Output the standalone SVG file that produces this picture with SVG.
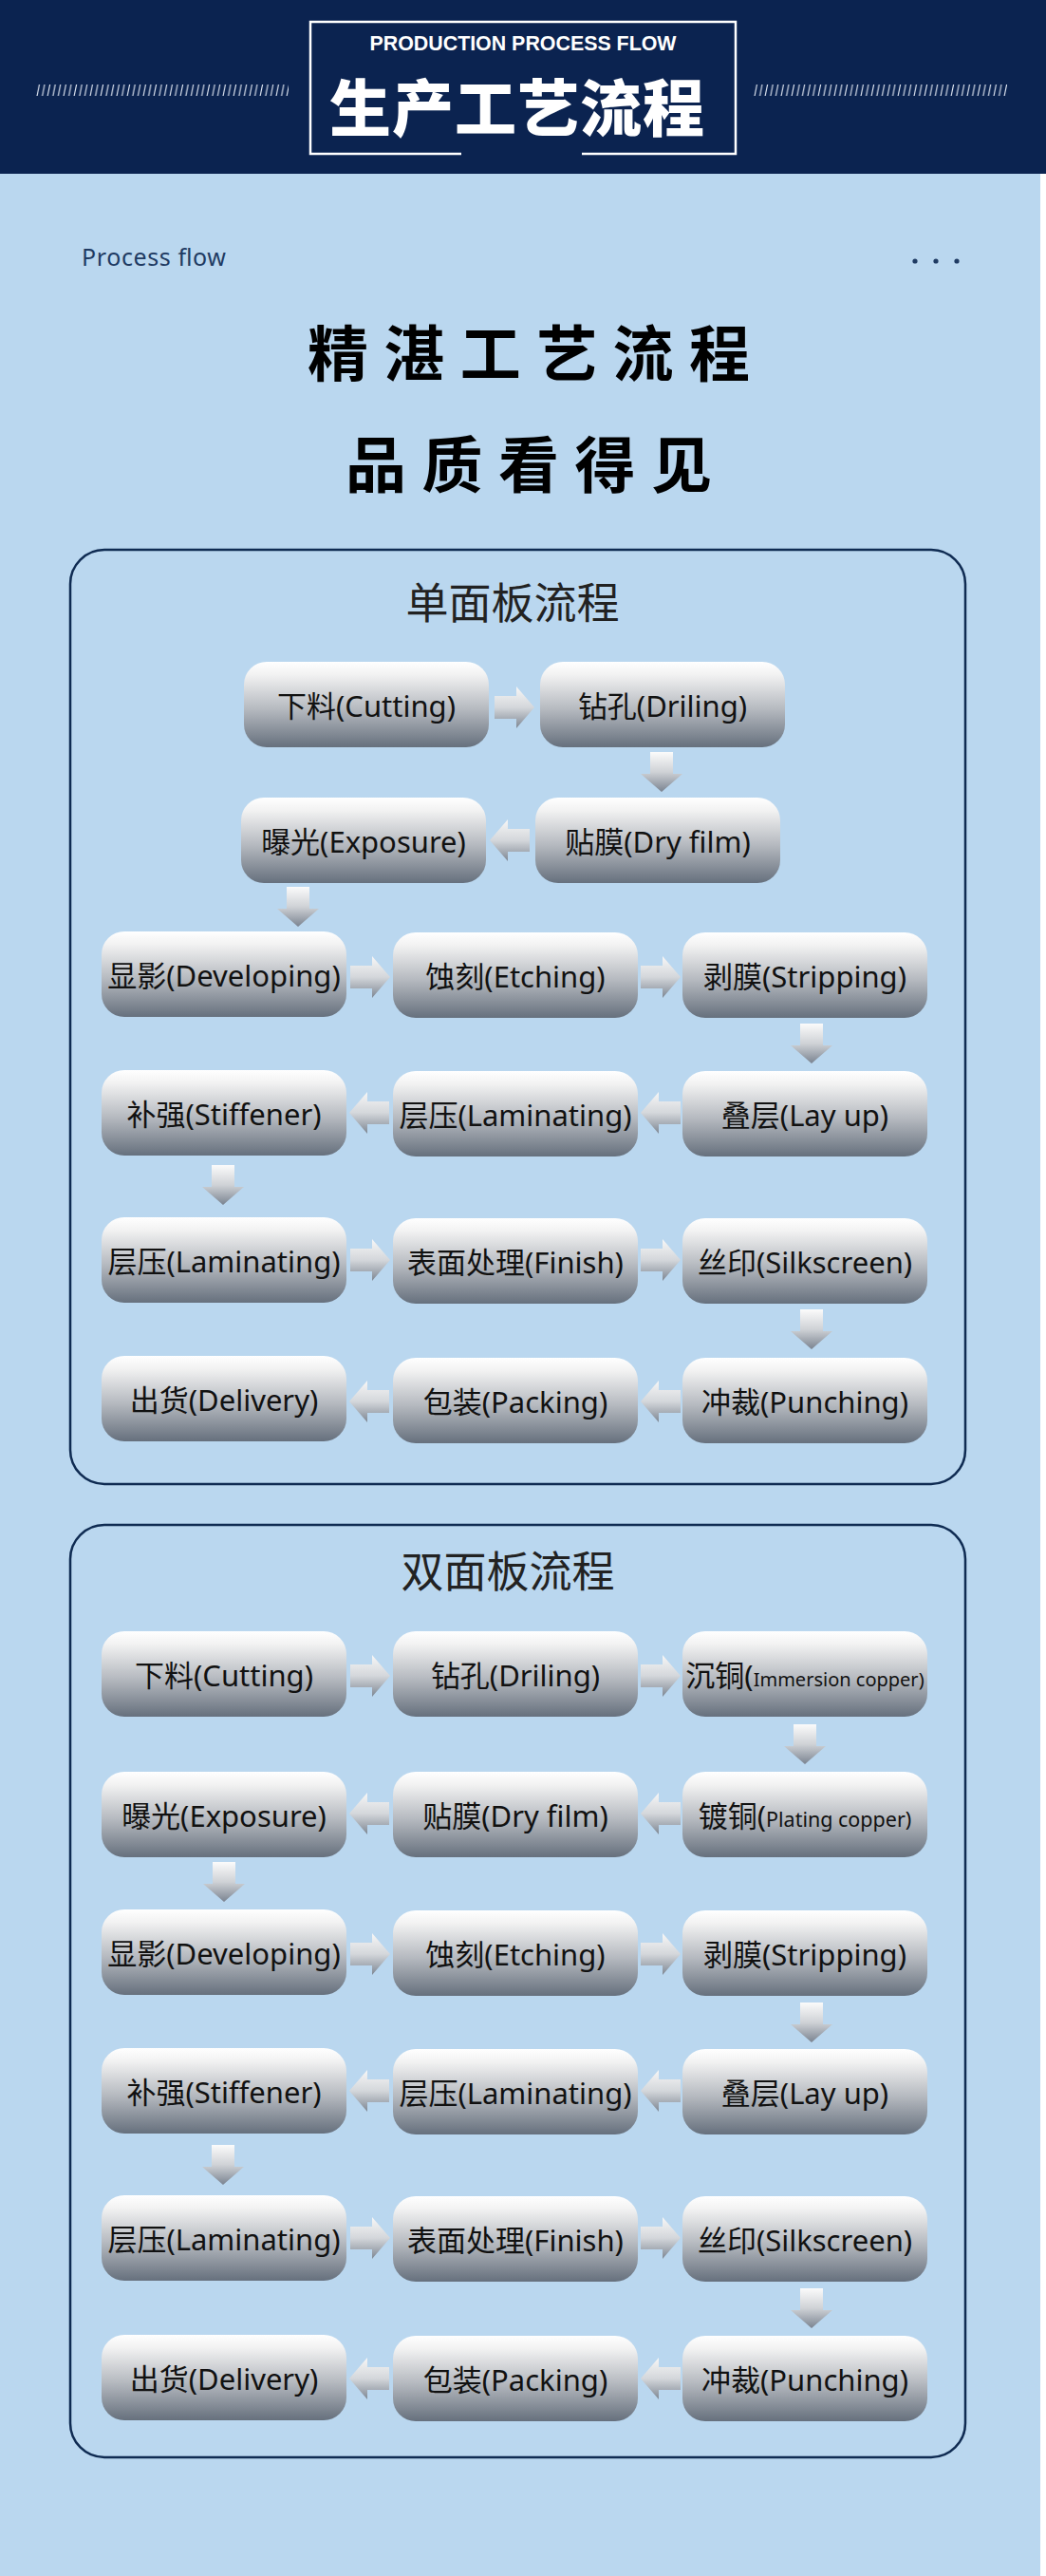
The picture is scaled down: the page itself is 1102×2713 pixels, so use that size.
<svg xmlns="http://www.w3.org/2000/svg" xmlns:xlink="http://www.w3.org/1999/xlink" width="1102" height="2713" viewBox="0 0 1102 2713">
<style>
.node rect{fill:url(#gN);}
.node text{font-family:'Noto Sans','Noto Sans CJK SC',sans-serif;font-size:31px;fill:#111;text-anchor:middle;}
.ah{fill:url(#gA);}
.av{fill:url(#gV);}
.panel{fill:none;stroke:#0f2b52;stroke-width:2.5;}
.ptitle{font-family:'Noto Sans CJK SC',sans-serif;font-size:45px;fill:#222;text-anchor:middle;}
.big{font-family:'Noto Sans CJK SC',sans-serif;font-weight:bold;font-size:64px;fill:#000;}
</style>
<defs>
<linearGradient id="gN" x1="0" y1="0" x2="0" y2="1">
<stop offset="0" stop-color="#ffffff"/>
<stop offset="0.15" stop-color="#f2f2f2"/>
<stop offset="0.55" stop-color="#b6bac0"/>
<stop offset="1" stop-color="#66707d"/>
</linearGradient>
<linearGradient id="gA" x1="0" y1="0" x2="0" y2="1">
<stop offset="0" stop-color="#f7f7f7"/>
<stop offset="0.5" stop-color="#d4d7db"/>
<stop offset="1" stop-color="#7d8692"/>
</linearGradient>
<linearGradient id="gV" x1="0" y1="0" x2="1" y2="0">
<stop offset="0" stop-color="#fbfbfb"/>
<stop offset="0.5" stop-color="#cfd2d6"/>
<stop offset="1" stop-color="#7a8390"/>
</linearGradient>
<path id="arr" d="M0,-12 H23 V-22 L42,0 L23,22 V12 H0 Z"/>
<pattern id="hatch" x="38" y="89" width="5.6" height="12" patternUnits="userSpaceOnUse">
<line x1="1" y1="12" x2="3.4" y2="0" stroke="#e8eef8" stroke-width="1.1"/>
</pattern>
</defs>

<rect x="0" y="0" width="1102" height="2713" fill="#ffffff"/>
<rect x="0" y="183" width="1096" height="2530" fill="#bad7ef"/>

<g id="header">
<rect x="0" y="0" width="1102" height="183" fill="#0b2350"/>
<path d="M486,162 H327 V23 H775 V162 H613" fill="none" stroke="#ffffff" stroke-width="2.5"/>
<text x="551" y="53" font-family="'Liberation Sans',sans-serif" font-weight="bold" font-size="22" fill="#ffffff" text-anchor="middle" textLength="323" lengthAdjust="spacingAndGlyphs">PRODUCTION PROCESS FLOW</text>
<text x="347" y="138" font-family="'Noto Sans CJK SC',sans-serif" font-weight="900" font-size="65" letter-spacing="1" fill="#ffffff">生产工艺流程</text>
<rect x="38" y="89" width="266" height="12" fill="url(#hatch)"/>
<rect x="794" y="89" width="267" height="12" fill="url(#hatch)"/>
</g>

<g id="intro">
<text x="86" y="280" font-family="'Noto Sans',sans-serif" font-size="25" fill="#1f3b63" textLength="152">Process flow</text>
<circle cx="964" cy="275" r="2.6" fill="#1f3b63"/>
<circle cx="986" cy="275" r="2.6" fill="#1f3b63"/>
<circle cx="1008" cy="275" r="2.6" fill="#1f3b63"/>
<text class="big" x="324" y="396" letter-spacing="16.4">精湛工艺流程</text>
<text class="big" x="364" y="513" letter-spacing="16.5">品质看得见</text>
</g>

<g id="panel-single">
<rect class="panel" x="74" y="579" width="943" height="984" rx="36"/>
<text class="ptitle" x="540" y="652">单面板流程</text>
</g>
<g id="panel-double">
<rect class="panel" x="74" y="1606" width="943" height="982" rx="36"/>
<text class="ptitle" x="535" y="1672">双面板流程</text>
</g>

<g id="connectors">
<use href="#arr" class="ah" transform="translate(521,745)"/>
<use href="#arr" class="av" transform="translate(697,792) rotate(90)"/>
<use href="#arr" class="ah" transform="translate(558,885) scale(-1,1)"/>
<use href="#arr" class="av" transform="translate(314,934) rotate(90)"/>
<use href="#arr" class="ah" transform="translate(369,1029)"/>
<use href="#arr" class="ah" transform="translate(675,1029)"/>
<use href="#arr" class="av" transform="translate(855,1078) rotate(90)"/>
<use href="#arr" class="ah" transform="translate(717,1172) scale(-1,1)"/>
<use href="#arr" class="ah" transform="translate(410,1172) scale(-1,1)"/>
<use href="#arr" class="av" transform="translate(235,1227) rotate(90)"/>
<use href="#arr" class="ah" transform="translate(369,1327)"/>
<use href="#arr" class="ah" transform="translate(675,1327)"/>
<use href="#arr" class="av" transform="translate(855,1379) rotate(90)"/>
<use href="#arr" class="ah" transform="translate(717,1476) scale(-1,1)"/>
<use href="#arr" class="ah" transform="translate(410,1476) scale(-1,1)"/>
<use href="#arr" class="ah" transform="translate(369,1765)"/>
<use href="#arr" class="ah" transform="translate(675,1765)"/>
<use href="#arr" class="av" transform="translate(848,1816) rotate(90)"/>
<use href="#arr" class="ah" transform="translate(717,1910) scale(-1,1)"/>
<use href="#arr" class="ah" transform="translate(410,1910) scale(-1,1)"/>
<use href="#arr" class="av" transform="translate(236,1961) rotate(90)"/>
<use href="#arr" class="ah" transform="translate(369,2058)"/>
<use href="#arr" class="ah" transform="translate(675,2058)"/>
<use href="#arr" class="av" transform="translate(855,2109) rotate(90)"/>
<use href="#arr" class="ah" transform="translate(717,2202) scale(-1,1)"/>
<use href="#arr" class="ah" transform="translate(410,2202) scale(-1,1)"/>
<use href="#arr" class="av" transform="translate(235,2259) rotate(90)"/>
<use href="#arr" class="ah" transform="translate(369,2357)"/>
<use href="#arr" class="ah" transform="translate(675,2357)"/>
<use href="#arr" class="av" transform="translate(855,2410) rotate(90)"/>
<use href="#arr" class="ah" transform="translate(717,2505) scale(-1,1)"/>
<use href="#arr" class="ah" transform="translate(410,2505) scale(-1,1)"/>
</g>

<g id="s1" class="node"><rect x="257" y="697" width="258" height="90" rx="24"/><text x="386" y="755">下料(Cutting)</text></g>
<g id="s2" class="node"><rect x="569" y="697" width="258" height="90" rx="24"/><text x="698" y="755">钻孔(Driling)</text></g>
<g id="s3" class="node"><rect x="564" y="840" width="258" height="90" rx="24"/><text x="693" y="898">贴膜(Dry film)</text></g>
<g id="s4" class="node"><rect x="254" y="840" width="258" height="90" rx="24"/><text x="383" y="898">曝光(Exposure)</text></g>
<g id="s5" class="node"><rect x="107" y="981" width="258" height="90" rx="24"/><text x="236" y="1039">显影(Developing)</text></g>
<g id="s6" class="node"><rect x="414" y="982" width="258" height="90" rx="24"/><text x="543" y="1040">蚀刻(Etching)</text></g>
<g id="s7" class="node"><rect x="719" y="982" width="258" height="90" rx="24"/><text x="848" y="1040">剥膜(Stripping)</text></g>
<g id="s8" class="node"><rect x="719" y="1128" width="258" height="90" rx="24"/><text x="848" y="1186">叠层(Lay up)</text></g>
<g id="s9" class="node"><rect x="414" y="1128" width="258" height="90" rx="24"/><text x="543" y="1186">层压(Laminating)</text></g>
<g id="s10" class="node"><rect x="107" y="1127" width="258" height="90" rx="24"/><text x="236" y="1185">补强(Stiffener)</text></g>
<g id="s11" class="node"><rect x="107" y="1282" width="258" height="90" rx="24"/><text x="236" y="1340">层压(Laminating)</text></g>
<g id="s12" class="node"><rect x="414" y="1283" width="258" height="90" rx="24"/><text x="543" y="1341">表面处理(Finish)</text></g>
<g id="s13" class="node"><rect x="719" y="1283" width="258" height="90" rx="24"/><text x="848" y="1341">丝印(Silkscreen)</text></g>
<g id="s14" class="node"><rect x="719" y="1430" width="258" height="90" rx="24"/><text x="848" y="1488">冲裁(Punching)</text></g>
<g id="s15" class="node"><rect x="414" y="1430" width="258" height="90" rx="24"/><text x="543" y="1488">包装(Packing)</text></g>
<g id="s16" class="node"><rect x="107" y="1428" width="258" height="90" rx="24"/><text x="236" y="1486">出货(Delivery)</text></g>

<g id="d1" class="node"><rect x="107" y="1718" width="258" height="90" rx="24"/><text x="236" y="1776">下料(Cutting)</text></g>
<g id="d2" class="node"><rect x="414" y="1718" width="258" height="90" rx="24"/><text x="543" y="1776">钻孔(Driling)</text></g>
<g id="d3" class="node"><rect x="719" y="1718" width="258" height="90" rx="24"/><text x="848" y="1776">沉铜(<tspan font-size="20">Immersion copper)</tspan></text></g>
<g id="d4" class="node"><rect x="719" y="1866" width="258" height="90" rx="24"/><text x="848" y="1924">镀铜(<tspan font-size="21.5">Plating copper)</tspan></text></g>
<g id="d5" class="node"><rect x="414" y="1866" width="258" height="90" rx="24"/><text x="543" y="1924">贴膜(Dry film)</text></g>
<g id="d6" class="node"><rect x="107" y="1866" width="258" height="90" rx="24"/><text x="236" y="1924">曝光(Exposure)</text></g>
<g id="d7" class="node"><rect x="107" y="2011" width="258" height="90" rx="24"/><text x="236" y="2069">显影(Developing)</text></g>
<g id="d8" class="node"><rect x="414" y="2012" width="258" height="90" rx="24"/><text x="543" y="2070">蚀刻(Etching)</text></g>
<g id="d9" class="node"><rect x="719" y="2012" width="258" height="90" rx="24"/><text x="848" y="2070">剥膜(Stripping)</text></g>
<g id="d10" class="node"><rect x="719" y="2158" width="258" height="90" rx="24"/><text x="848" y="2216">叠层(Lay up)</text></g>
<g id="d11" class="node"><rect x="414" y="2158" width="258" height="90" rx="24"/><text x="543" y="2216">层压(Laminating)</text></g>
<g id="d12" class="node"><rect x="107" y="2157" width="258" height="90" rx="24"/><text x="236" y="2215">补强(Stiffener)</text></g>
<g id="d13" class="node"><rect x="107" y="2312" width="258" height="90" rx="24"/><text x="236" y="2370">层压(Laminating)</text></g>
<g id="d14" class="node"><rect x="414" y="2313" width="258" height="90" rx="24"/><text x="543" y="2371">表面处理(Finish)</text></g>
<g id="d15" class="node"><rect x="719" y="2313" width="258" height="90" rx="24"/><text x="848" y="2371">丝印(Silkscreen)</text></g>
<g id="d16" class="node"><rect x="719" y="2460" width="258" height="90" rx="24"/><text x="848" y="2518">冲裁(Punching)</text></g>
<g id="d17" class="node"><rect x="414" y="2460" width="258" height="90" rx="24"/><text x="543" y="2518">包装(Packing)</text></g>
<g id="d18" class="node"><rect x="107" y="2459" width="258" height="90" rx="24"/><text x="236" y="2517">出货(Delivery)</text></g>
</svg>
